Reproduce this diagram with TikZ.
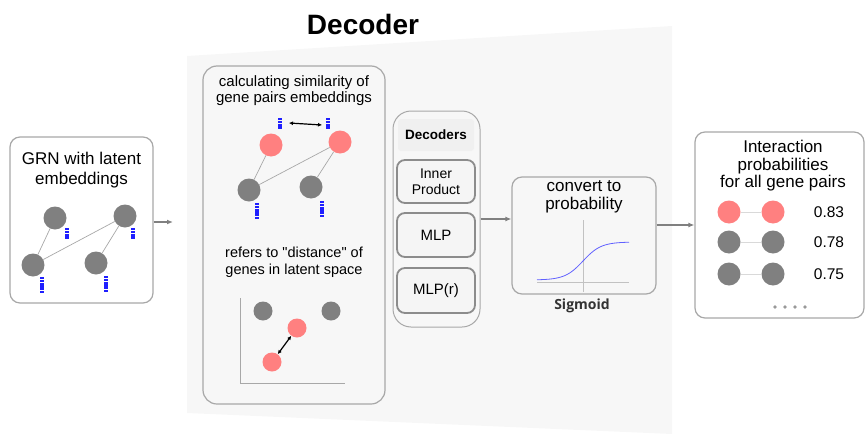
\documentclass[tikz,border=0pt]{standalone}
\usepackage{fontspec}
\setmainfont{Liberation Sans}[Ligatures=TeXOff]
\newfontfamily\sigfont{Open Sans}
\usetikzlibrary{arrows.meta}
\definecolor{bgpanel}{HTML}{F7F7F7}
\definecolor{boxline}{HTML}{A8A8A8}
\definecolor{innerline}{HTML}{8C8C8C}
\definecolor{genegray}{HTML}{808080}
\definecolor{genepink}{HTML}{FF8080}
\definecolor{barblue}{HTML}{1F1FFF}
\definecolor{edgegray}{HTML}{A8A8A8}
\definecolor{sigblue}{HTML}{6060FF}
\tikzset{
  box/.style={draw=boxline, line width=1.2pt, rounded corners=10pt},
  innerbox/.style={draw=innerline, line width=1.8pt, rounded corners=8pt, fill=white!96!black},
  gene/.style={circle, fill=genegray, inner sep=0pt, minimum size=23pt},
  pgene/.style={circle, fill=genepink, inner sep=0pt, minimum size=23pt},
  sgene/.style={circle, fill=genegray, inner sep=0pt, minimum size=19pt},
  spgene/.style={circle, fill=genepink, inner sep=0pt, minimum size=19pt},
  link/.style={draw=edgegray, line width=0.7pt},
  flow/.style={draw=genegray, line width=1.4pt, -{Latex[length=6pt,width=5pt]}},
  dbl/.style={draw=black, line width=1.2pt, {Latex[length=4pt,width=4pt]}-{Latex[length=4pt,width=4pt]}},
  lbl/.style={align=center, inner sep=0pt},
  pics/bars/.style={code={
    \foreach \i in {1,...,#1} \fill[barblue] (-2.4,{(\i-1)*2.8}) rectangle (2.4,{(\i-1)*2.8+2.2});
  }}
}
\begin{document}
\begin{tikzpicture}[x=1pt,y=-1pt]
\useasboundingbox (0,0) rectangle (868,434);
% background panel
\fill[bgpanel] (187,56) -- (672,26) -- (672,434) -- (187,413) -- cycle;
% title
\node[lbl, font=\bfseries\fontsize{28}{30}\selectfont] (title) at (363,24) {Decoder};

% ---------- left box ----------
\node[box, fill=white, minimum width=143pt, minimum height=166pt] (grn) at (81.5,220) {};
\node[lbl, font=\fontsize{17}{20}\selectfont] (grnt) at (81.5,170) {GRN with latent\\embeddings};
\node[gene] (a1) at (55,218) {};
\node[gene] (a2) at (125,216) {};
\node[gene] (a3) at (33,265) {};
\node[gene] (a4) at (96,263) {};
\path[link] (a1) -- (a3);
\path[link] (a3) -- (a2);
\path[link] (a2) -- (a4);
\pic at (67,228) {bars=4};
\pic at (133,228) {bars=4};
\pic at (42,277) {bars=6};
\pic at (106,276) {bars=6};
\coordinate (grnarrow) at (173,222);
\draw[flow] (grn.east |- grnarrow) -- (grnarrow);

% ---------- middle box ----------
\node[box, fill=bgpanel, rounded corners=14pt, minimum width=182pt, minimum height=338pt] (sim) at (294,235) {};
\node[lbl, font=\fontsize{15}{16}\selectfont] (simt) at (294,91) {calculating similarity of\\gene pairs embeddings};
\node[pgene] (b1) at (271,145) {};
\node[pgene] (b2) at (340,142) {};
\node[gene] (b3) at (249,190) {};
\node[gene] (b4) at (311,187) {};
\path[link] (b1) -- (b3);
\path[link] (b3) -- (b2);
\path[link] (b2) -- (b4);
\pic at (280,118) {bars=4};
\pic at (328,118) {bars=4};
\pic at (257,203) {bars=6};
\pic at (322,201) {bars=6};
\coordinate (e1) at (289,123);
\coordinate (e2) at (322,125);
\draw[dbl] (e1) -- (e2);
\node[lbl, font=\fontsize{14.5}{16.5}\selectfont] (dist) at (294,262) {refers to "distance" of\\genes in latent space};
\coordinate (ax0) at (240,383);
\coordinate (axy) at (240,298);
\coordinate (axx) at (345,383);
\draw[draw=boxline, line width=0.9pt] (axy) -- (ax0) -- (axx);
\node[sgene] (c1) at (263,311) {};
\node[sgene] (c2) at (331,311) {};
\node[spgene] (c3) at (297,328) {};
\node[spgene] (c4) at (272,362) {};
\draw[dbl] (c3) -- (c4);

% ---------- decoders ----------
\node[draw=boxline, line width=1pt, rounded corners=18pt, fill=white!97!black, minimum width=87pt, minimum height=216pt] (dec) at (436.5,219) {};
\node[fill=white!94!black, rounded corners=3pt, minimum width=76pt, minimum height=32pt, font=\bfseries\fontsize{13.5}{15}\selectfont] (dect) at (436,135) {Decoders};
\node[innerbox, minimum width=78pt, minimum height=43pt, align=center, font=\fontsize{14}{15.5}\selectfont] (ip) at (436,181.5) {Inner\\Product};
\node[innerbox, minimum width=78pt, minimum height=44pt, font=\fontsize{15}{17}\selectfont] (mlp) at (436,235) {MLP};
\node[innerbox, minimum width=78pt, minimum height=45pt, font=\fontsize{15}{17}\selectfont] (mlpr) at (436,290.5) {MLP(r)};

% ---------- sigmoid ----------
\node[box, fill=bgpanel, minimum width=144pt, minimum height=117pt] (sig) at (584,235.5) {};
\draw[flow] (dec.east) -- (dec.east -| sig.west);
\node[lbl, font=\fontsize{17}{18}\selectfont] (sigt) at (584,197) {convert to\\probability};
\coordinate (sv1) at (583,220);
\coordinate (sv2) at (583,292);
\coordinate (sh1) at (537,282);
\coordinate (sh2) at (629,282);
\draw[draw=boxline!70, line width=0.6pt] (sv1) -- (sv2);
\draw[draw=boxline!70, line width=0.6pt] (sh1) -- (sh2);
\draw[sigblue, line width=0.8pt] plot[domain=-46:46, samples=80] ({583+\x},{280-38/(1+exp(-\x/9))});
\node[lbl, font=\sigfont\bfseries\fontsize{14}{16}\selectfont, text=black!80] (sigl) at (582,306) {Sigmoid};

% ---------- right box ----------
\node[box, fill=white, minimum width=169pt, minimum height=186pt] (res) at (779.5,225) {};
\draw[flow] (sig.east |- res.west) -- (res.west);
\node[lbl, font=\fontsize{17}{17.5}\selectfont] (rest) at (783,166) {Interaction\\probabilities\\for all gene pairs};
\node[pgene] (p1) at (729,212) {};
\node[pgene] (p2) at (773,212) {};
\node[gene] (q1) at (729,242) {};
\node[gene] (q2) at (773,242) {};
\node[gene] (r1) at (729,274) {};
\node[gene] (r2) at (773,274) {};
\path[draw=black!15, line width=0.8pt] (p1) -- (p2);
\path[draw=black!15, line width=0.8pt] (q1) -- (q2);
\path[draw=black!15, line width=0.8pt] (r1) -- (r2);
\node[lbl, font=\fontsize{15.5}{17}\selectfont] (v1) at (829,212) {0.83};
\node[lbl, font=\fontsize{15.5}{17}\selectfont] (v2) at (829,242) {0.78};
\node[lbl, font=\fontsize{15.5}{17}\selectfont] (v3) at (829,274) {0.75};
\foreach \dx [count=\k] in {775,785,795,805}
  \node[circle, fill=genegray!80, inner sep=0pt, minimum size=3.6pt] (dot\k) at (\dx,307) {};
\end{tikzpicture}
\end{document}
